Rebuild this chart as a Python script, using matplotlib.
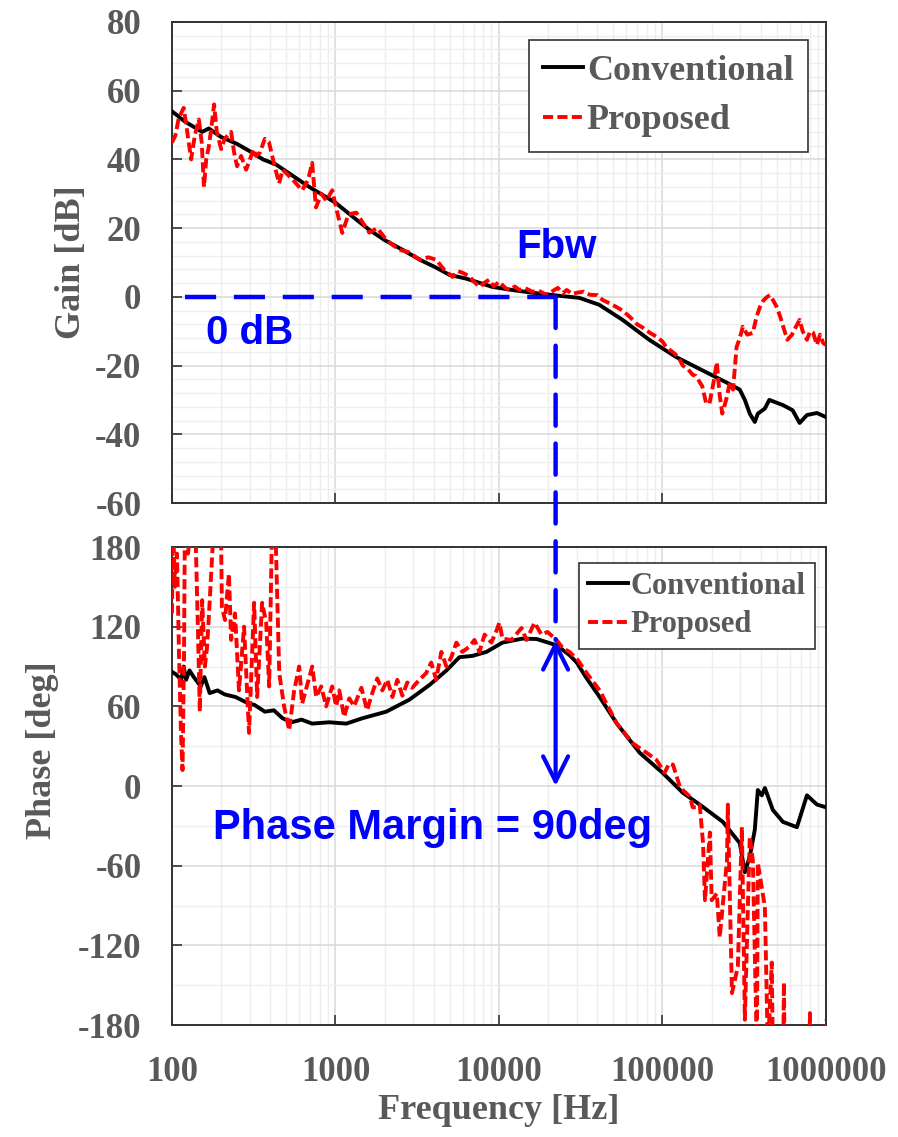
import numpy as np
import matplotlib
matplotlib.use('Agg')
import matplotlib.pyplot as plt
from matplotlib.patches import ConnectionPatch
from matplotlib.ticker import MultipleLocator, LogLocator, NullFormatter

plt.rcParams['axes.unicode_minus'] = False

# ---- data ----
conv_gain_f = [100, 120, 153, 168, 200, 250, 309, 360, 433, 500, 690, 1000, 1300, 1610, 2000,
               2570, 3280, 4130, 4975, 6300, 9100, 12000, 16000, 23500, 31000, 41000, 57000,
               83000, 121000, 169000, 248000, 297000, 319000, 342000, 367000, 383000, 423000,
               450000, 545000, 625000, 690000, 765000, 880000, 1000000]
conv_gain = [54, 51, 48, 49, 46.5, 44.5, 42, 40, 38.5, 36.5, 32, 27.4, 23, 19.5, 16.5,
             13.7, 10.8, 8.5, 6.4, 5.3, 2.9, 2, 1.2, 0.3, -0.3, -2.3, -6.7,
             -12.5, -17.5, -21, -25, -27, -30, -34, -36.4, -34, -32.5,
             -30, -31.5, -33, -36.7, -34.4, -33.8, -35]

prop_gain_f = [100, 105, 110, 118, 124, 131, 138, 146, 152, 157, 162, 168, 175, 181, 188,
               200, 210, 220, 230, 240, 250, 265, 284, 300, 315, 327, 345, 370, 392, 420,
               452, 475, 500, 550, 625, 680, 720, 760, 820, 880, 955, 1020, 1100, 1200,
               1340, 1450, 1610, 1800, 2050, 2250, 2460, 2800, 3280, 3700, 4130, 4600,
               5200, 5600, 5990, 6600, 7000, 7600, 8100, 8700, 9300, 10000, 11000, 11600,
               12500, 13300, 14500, 16000, 17500, 19500, 21000, 22900, 24500, 26000, 28000,
               30000, 33000, 36000, 40000, 43000, 48000, 52000, 57000, 63000, 70000, 76000,
               84000, 92000, 100000, 106000, 115000, 125000, 133000, 143000, 153000, 160000,
               175000, 185000, 194000, 205000, 215000, 223000, 232000, 245000, 258000,
               270000, 284000, 297000, 310000, 330000, 357000, 375000, 395000, 415000,
               437000, 455000, 475000, 500000, 525000, 550000, 580000, 620000, 650000,
               690000, 720000, 765000, 800000, 835000, 880000, 920000, 960000, 1000000]
prop_gain = [44.9, 47, 52, 55, 48, 40, 47, 51.6, 45, 32, 40, 43.7, 50, 56, 48,
             43, 46, 47, 48, 42, 38, 41, 37, 40, 43, 41, 42, 46, 45, 39,
             33, 37, 36, 34, 31, 34, 39, 26, 30, 28, 31, 25, 18.6, 24,
             24.5, 22, 18.7, 20, 16.6, 15, 13.7, 13, 10.8, 11.5, 10.8, 8,
             5.8, 7.5, 7, 6, 4.5, 2.9, 4, 5, 3, 4.4, 2.5, 2,
             3, 2, 2.5, 1.5, 1.8, 0.6, 1.5, 2.6, 1, 2, 0.8,
             1.2, 1.5, 0.6, 0.5, -0.9, -2, -2.9, -4, -5.8, -8, -9,
             -10.5, -11.6, -13, -14.8, -16, -17.5, -20, -21, -22.7, -23,
             -26, -31, -31, -25, -19, -28, -34, -30, -25,
             -27, -14.6, -12, -8.7, -11, -10.5, -6, -2.9, -1,
             0, 0.5, -1, -3, -5.8, -9, -12.5, -11, -9,
             -6.7, -10, -12.5, -10, -10.5, -14, -11, -13.4, -14]

conv_phase_f = [100, 106, 114, 118, 122, 128, 136, 150, 158, 170, 190, 210, 245, 290, 320,
                370, 420, 475, 540, 620, 720, 916, 1165, 1459, 2046, 2830, 3751, 4770, 5724,
                6880, 8380, 10500, 13900, 17000, 22500, 27000, 29900, 34000, 41300, 52600,
                72600, 100000, 133000, 169000, 234000, 297000, 319000, 342000, 367000,
                383000, 405000, 423000, 473000, 545000, 664000, 765000, 881000, 1000000]
conv_phase = [86, 84, 80, 90, 80, 87, 82, 75, 82, 70, 72, 69, 67, 62.5, 61,
              56, 57, 51, 48, 50, 47, 48, 47, 51, 56, 65, 76, 87, 97,
              98, 101, 108, 111, 110.7, 106, 98.6, 93, 82, 67, 47,
              25, 10, -5, -14, -27, -43, -65, -53, -33,
              -3, -7, -1.5, -18, -27, -31, -7, -14, -16]

prop_phase_f = [100, 101.4, 104.3, 107.3, 110.4, 113.5, 116, 118.5, 120, 125.3, 132.6, 140,
                144, 148, 153, 159, 164, 168.5, 181, 194, 200, 202, 211, 223, 230, 243, 257,
                276, 296, 318, 332, 356, 377, 393, 410, 428, 453, 485, 521, 559, 600, 625,
                721, 763, 818, 877, 955, 1010, 1055, 1130, 1215, 1300, 1440, 1560, 1680,
                1800, 1935, 2075, 2230, 2390, 2565, 2750, 2950, 3260, 3585, 3850, 4130,
                4440, 4770, 5110, 5490, 5970, 6600, 7080, 7600, 8160, 8990, 9650, 10060,
                10500, 11920, 13740, 14740, 16500, 18200, 19800, 22500, 24500, 27000,
                30300, 34400, 41300, 52600, 66000, 80000, 92000, 103000, 110000, 116000,
                128000, 147000, 153000, 162000, 169000, 177000, 182000, 195000, 200000,
                215000, 224000, 248000, 251000, 266000, 289000, 306000, 319000, 342000,
                357000, 378000, 383000, 423000, 429000, 441000, 466000, 473000, 548000,
                553000, 558000, 790000, 798000, 805000, 990000, 1000000]
prop_phase = [130, 200, 150, 175, 100, 40, 12, 100, 200, 175, 200, 180,
              120, 56, 140, 90, 105, 130, 200, 200, 180, 135, 125, 160, 110, 130, 72,
              120, 40, 138, 67, 138, 123, 75, 200, 200, 85, 60, 42, 72, 90, 62,
              90, 67, 75, 60, 75, 60, 72, 52, 66, 60, 74, 57, 70,
              81, 72, 80, 67, 80, 68, 78, 74, 80, 85, 93, 80,
              101, 90, 97, 108, 101, 105, 110, 101, 114, 108, 117, 123,
              111, 110, 119, 110, 123, 114, 116, 110, 104, 101,
              95, 85, 72, 47, 32, 25, 19.6, 10, 17, 16,
              -1, -8, -16, -16, -14, -43, -86, -35, -86,
              -81, -114, -56, -14, -156, -136, -31, -176, -38,
              -56, -200, -58, -91, -129, -200, -133, -200, -200,
              -148, -200, -200, -171, -200, -200, -176]

f_bw = 22200
phase_at_bw = 110

gray = '#595959'
serif = 'Liberation Serif'
sans = 'Liberation Sans'
red_dash = (0, (2.6, 1.1))

fig = plt.figure(figsize=(8.98, 11.37), dpi=100)
ax1 = fig.add_axes([0.1915, 0.5576, 0.7283, 0.4231])
ax2 = fig.add_axes([0.1915, 0.0985, 0.7283, 0.4204])

for ax in (ax1, ax2):
    ax.set_xscale('log')
    ax.set_xlim(100, 1e6)
    ax.xaxis.set_major_locator(LogLocator(base=10, numticks=10))
    ax.xaxis.set_minor_locator(LogLocator(base=10, subs=np.arange(2, 10), numticks=10))
    ax.xaxis.set_minor_formatter(NullFormatter())
    ax.grid(True, which='major', color='#d9d9d9', lw=1.1, zorder=0)
    ax.grid(True, which='minor', color='#eeeeee', lw=1.0, zorder=0)
    ax.set_axisbelow(True)
    ax.tick_params(which='major', direction='in', length=7, width=1.2, colors='#333333',
                   labelcolor=gray, labelsize=25, pad=22)
    ax.tick_params(which='minor', length=0)
    for s in ax.spines.values():
        s.set_color('#333333')
        s.set_linewidth(1.4)
    for lab in ax.get_yticklabels() + ax.get_xticklabels():
        lab.set_fontfamily(serif)
        lab.set_fontweight('bold')

# ---- gain ----
ax1.plot(conv_gain_f, conv_gain, color='black', lw=2.8, label='Conventional', zorder=3)
ax1.plot(prop_gain_f, prop_gain, color='red', lw=2.8, ls=red_dash, label='Proposed', zorder=4)
ax1.set_ylim(-60, 80)
ax1.yaxis.set_major_locator(MultipleLocator(20))
ax1.yaxis.set_minor_locator(MultipleLocator(4))
ax1.tick_params(axis='x', labelbottom=False)
ax1.set_ylabel('Gain [dB]', fontsize=26, fontfamily=serif, fontweight='bold', color=gray)
ax1.yaxis.set_label_coords(-0.128, 0.5)

ax1.plot([120, f_bw], [0, 0], color='blue', lw=3.2, ls=(0, (7, 4)), zorder=5)
ax1.text(161, -10.5, '0 dB', fontsize=29, fontfamily=sans, fontweight='bold',
         color='blue', ha='left', va='center')
ax1.text(22500, 14.5, 'Fbw', fontsize=29, fontfamily=sans, fontweight='bold',
         color='blue', ha='center', va='center')

leg1 = ax1.legend(loc='upper right', bbox_to_anchor=(0.9725, 0.9626), borderaxespad=0,
                  fancybox=False, framealpha=1, edgecolor='#333333',
                  prop={'family': serif, 'weight': 'bold', 'size': 26},
                  labelcolor=gray, handlelength=1.1, handletextpad=0.1,
                  labelspacing=0.45, borderpad=0.4)
leg1.get_frame().set_linewidth(1.2)

# ---- phase ----
ax2.plot(conv_phase_f, conv_phase, color='black', lw=2.8, label='Conventional', zorder=3)
ax2.plot(prop_phase_f, prop_phase, color='red', lw=2.8, ls=red_dash, label='Proposed', zorder=4)
ax2.set_ylim(-180, 180)
ax2.yaxis.set_major_locator(MultipleLocator(60))
ax2.yaxis.set_minor_locator(MultipleLocator(30))
ax2.set_ylabel('Phase [deg]', fontsize=26, fontfamily=serif, fontweight='bold', color=gray)
ax2.yaxis.set_label_coords(-0.172, 0.575)
ax2.set_xticks([100, 1000, 10000, 100000, 1000000])
ax2.set_xticklabels(['100', '1000', '10000', '100000', '1000000'],
                    fontfamily=serif, fontweight='bold')
ax2.set_xlabel('Frequency [Hz]', fontsize=26, fontfamily=serif, fontweight='bold', color=gray)
ax2.xaxis.set_label_coords(0.5, -0.145)

ax2.annotate('', xy=(f_bw, 0), xytext=(f_bw, phase_at_bw),
             arrowprops=dict(arrowstyle='<->,head_length=0.9,head_width=0.45',
                             color='blue', lw=3, mutation_scale=20, shrinkA=0, shrinkB=0),
             zorder=6)
ax2.text(3920, -31.6, 'Phase Margin = 90deg', fontsize=30, fontfamily=sans,
         fontweight='bold', color='blue', ha='center', va='center')

leg2 = ax2.legend(loc='upper right', bbox_to_anchor=(0.983, 0.9665), borderaxespad=0,
                  fancybox=False, framealpha=1, edgecolor='#333333',
                  prop={'family': serif, 'weight': 'bold', 'size': 22},
                  labelcolor=gray, handlelength=1.3, handletextpad=0.1,
                  labelspacing=0.3, borderpad=0.3)
leg2.get_frame().set_linewidth(1.2)

con = ConnectionPatch(xyA=(f_bw, 0), coordsA=ax1.transData,
                      xyB=(f_bw, phase_at_bw), coordsB=ax2.transData,
                      color='blue', lw=3.2, ls=(0, (7, 4)), zorder=10)
fig.add_artist(con)

fig.savefig('out.png', dpi=100)
